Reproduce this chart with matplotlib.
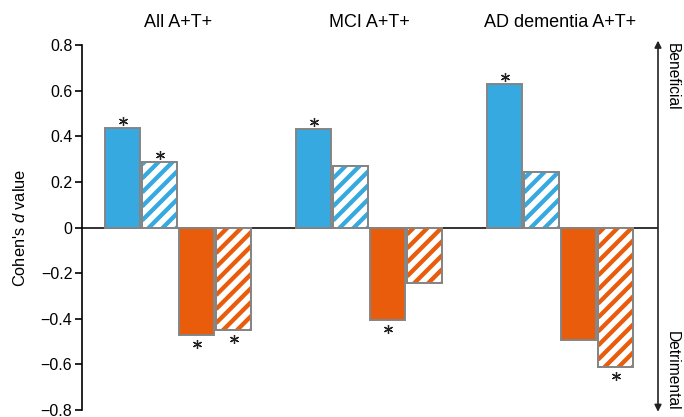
import matplotlib
matplotlib.use("Agg")
import matplotlib.pyplot as plt
import numpy as np

plt.rcParams['font.family'] = ['Liberation Sans', 'DejaVu Sans']
plt.rcParams['mathtext.fontset'] = 'custom'
plt.rcParams['mathtext.it'] = 'Liberation Sans:italic'
plt.rcParams['mathtext.rm'] = 'Liberation Sans'

groups = ["All A+T+", "MCI A+T+", "AD dementia A+T+"]
blue_solid = [0.434, 0.43, 0.627]
blue_hatch = [0.285, 0.27, 0.245]
orange_solid = [-0.47, -0.405, -0.495]
orange_hatch = [-0.45, -0.245, -0.61]
# significance stars per series
sig_blue_solid = [True, True, True]
sig_blue_hatch = [True, False, False]
sig_orange_solid = [True, True, False]
sig_orange_hatch = [True, False, True]

blue = '#36a9e0'
orange = '#e85c0c'
edge = '#858585'

fig = plt.figure(figsize=(6.84, 4.17), dpi=100)
ax = fig.add_axes([82 / 684, 1 - 410 / 417, 576 / 684, 365 / 417])
ax.set_xlim(-0.503, 2.513)
ax.set_ylim(-0.8, 0.8)

# pixels per data unit (for 45 degree stripes)
px_x = 576 / (2.513 + 0.503)
px_y = 365 / 1.6

x = np.arange(len(groups))
w = 0.183
pitch = 0.1937
offs = [-1.5 * pitch, -0.5 * pitch, 0.5 * pitch, 1.5 * pitch]

series = [
    (blue_solid, blue, False, sig_blue_solid),
    (blue_hatch, blue, True, sig_blue_hatch),
    (orange_solid, orange, False, sig_orange_solid),
    (orange_hatch, orange, True, sig_orange_hatch),
]

ax.axhline(0, color='#222222', lw=1.3, zorder=1)


def stripes(bar, col, period=14, lw_px=4.3):
    # diagonal stripes clipped to the bar
    x0, y0 = bar.get_x(), bar.get_y()
    bw, bh = bar.get_width(), bar.get_height()
    ylo, yhi = min(y0, y0 + bh), max(y0, y0 + bh)
    wpx = bw * px_x
    hpx = (yhi - ylo) * px_y
    n = int((wpx + hpx) / period) + 3
    for k in range(-1, n):
        # line y = x + c in pixel space
        c = k * period - wpx
        xb = wpx + 20
        ln, = ax.plot([x0, x0 + xb / px_x],
                      [ylo + c / px_y, ylo + (c + xb) / px_y],
                      color=col, lw=lw_px * 0.72, solid_capstyle='butt', zorder=2.5)
        ln.set_clip_path(bar)


for (vals, col, hatched, sig), off in zip(series, offs):
    xs = x + off
    if hatched:
        bars = ax.bar(xs, vals, w, color='white', edgecolor=edge, lw=1.4, zorder=2)
        for b in bars:
            stripes(b, col)
            edge_rect = plt.Rectangle((b.get_x(), b.get_y()), b.get_width(), b.get_height(),
                                      fill=False, edgecolor=edge, lw=1.4, zorder=3)
            ax.add_patch(edge_rect)
    else:
        ax.bar(xs, vals, w, color=col, edgecolor=edge, lw=1.4, zorder=2)
    for xi, v, s in zip(xs, vals, sig):
        if s:
            ys = v + 0.031 if v > 0 else v - 0.04
            ax.plot(xi, ys, marker=(6, 2, 0), ms=6.5, mew=0.9, color='#222222',
                    zorder=4, clip_on=False)

# group titles
for tx, g in zip(x, groups):
    ax.text(tx, 0.9, g, ha='center', va='center', fontsize=13)

ax.set_yticks([-0.8, -0.6, -0.4, -0.2, 0, 0.2, 0.4, 0.6, 0.8])
ax.set_yticklabels(['\u22120.8', '\u22120.6', '\u22120.4', '\u22120.2', '0',
                    '0.2', '0.4', '0.6', '0.8'], fontsize=11.5)
ax.set_xticks([])
for s in ['top', 'right', 'bottom']:
    ax.spines[s].set_visible(False)
ax.spines['left'].set_linewidth(1.2)
ax.tick_params(axis='y', length=5, width=1.2, direction='out', pad=2)
ax.set_ylabel("Cohen's $\\it{d}$ value", fontsize=11.8)
ax.yaxis.set_label_coords(-0.094, 0.5)

# right-hand double arrow
ax.annotate('', xy=(1.0, 1.012), xytext=(1.0, -0.005), xycoords='axes fraction',
            arrowprops=dict(arrowstyle='<|-|>', color='#222222', lw=1.2,
                            mutation_scale=10, shrinkA=0, shrinkB=0),
            annotation_clip=False)
ax.text(1.025, 1.006, 'Beneficial', rotation=-90, ha='center', va='top',
        fontsize=11.2, transform=ax.transAxes)
ax.text(1.025, -0.003, 'Detrimental', rotation=-90, ha='center', va='bottom',
        fontsize=11.2, transform=ax.transAxes)

fig.savefig('out.png', dpi=100)
